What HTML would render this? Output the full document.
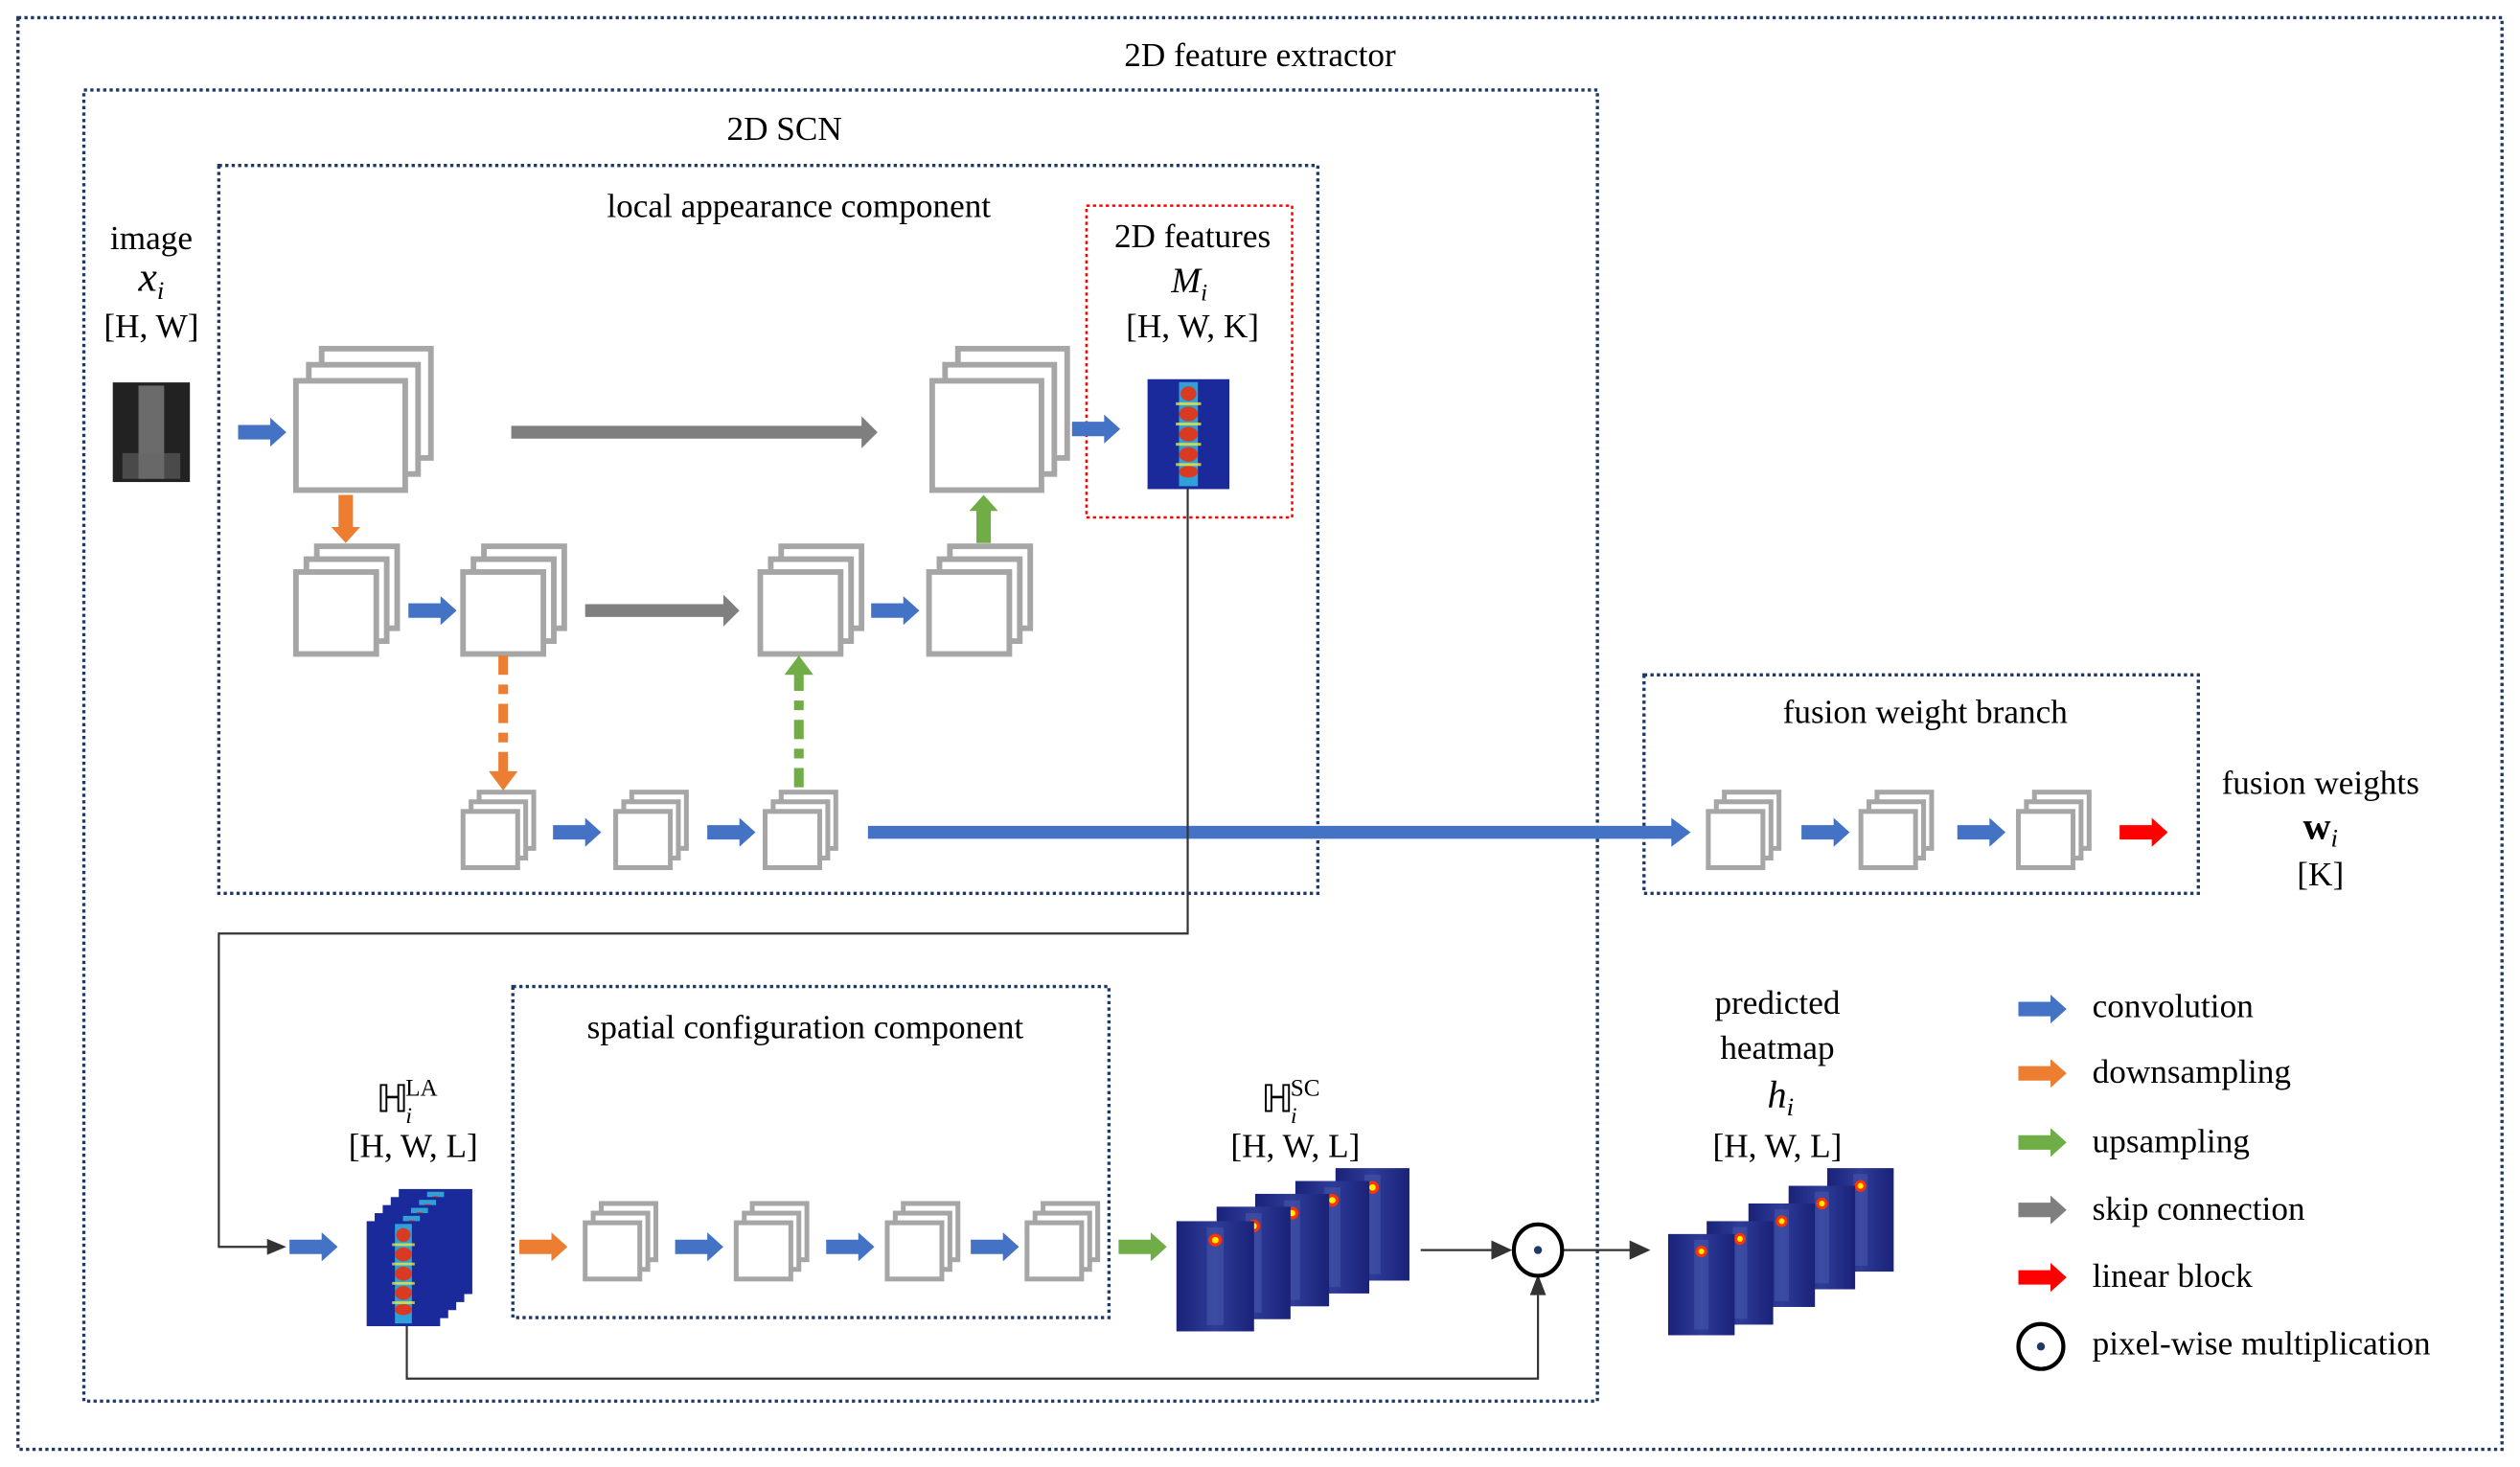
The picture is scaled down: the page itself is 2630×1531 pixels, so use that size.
<!DOCTYPE html>
<html><head><meta charset="utf-8"><style>
html,body{margin:0;padding:0;background:#fff;}
svg{display:block;}
text{font-family:"Liberation Serif","Times New Roman",serif;fill:#000;}
</style></head><body>
<svg width="2630" height="1531" viewBox="0 0 1568 913" xmlns="http://www.w3.org/2000/svg">
<defs>
<path id="arr" d="M0,-4.5 H20 V-9 L30,0 L20,9 V4.5 H0 Z"/>
<g id="bigS" fill="#fff" stroke="#a6a6a6" stroke-width="3.5">
<rect x="16" y="-20" width="68" height="68"/><rect x="8" y="-10" width="68" height="68"/><rect x="0" y="0" width="68" height="68"/></g>
<g id="medS" fill="#fff" stroke="#a6a6a6" stroke-width="3.5">
<rect x="13" y="-16" width="50" height="51"/><rect x="6.5" y="-8" width="50" height="51"/><rect x="0" y="0" width="50" height="51"/></g>
<g id="smS" fill="#fff" stroke="#a6a6a6" stroke-width="3">
<rect x="10" y="-12" width="34" height="35"/><rect x="5" y="-6" width="34" height="35"/><rect x="0" y="0" width="34" height="35"/></g>
<linearGradient id="spine" x1="0" x2="1"><stop offset="0" stop-color="#1a2278"/><stop offset="0.5" stop-color="#2e3c98"/><stop offset="1" stop-color="#1a2278"/></linearGradient>
<g id="sc">
<rect x="0" y="0" width="46" height="70" fill="url(#spine)"/>
<rect x="18" y="4" width="10" height="62" fill="#5a6ab8" opacity="0.35"/>
<circle cx="23" cy="12" r="4" fill="#ff3300"/><circle cx="23" cy="12" r="2" fill="#ffee00"/>
</g>
<g id="la">
<rect x="0" y="0" width="52" height="76" fill="#1a2a9a"/>
<rect x="20" y="2" width="12" height="72" fill="#2fa0d8"/>
<g fill="#d83a22"><ellipse cx="26" cy="10" rx="5" ry="5"/><ellipse cx="26" cy="24" rx="6" ry="5"/><ellipse cx="26" cy="38" rx="6" ry="5"/><ellipse cx="26" cy="52" rx="6" ry="5"/><ellipse cx="26" cy="64" rx="6" ry="4"/></g>
<g fill="#e8e83a" opacity="0.8"><rect x="18" y="16" width="16" height="2"/><rect x="18" y="30" width="16" height="2"/><rect x="18" y="44" width="16" height="2"/><rect x="18" y="58" width="16" height="2"/></g>
</g>
</defs>

<g fill="none" stroke="#1f3864" stroke-width="2" stroke-dasharray="2 2">
<rect x="11" y="11" width="1546" height="891"/>
<rect x="52" y="56" width="942" height="816"/>
<rect x="136" y="103" width="684" height="453"/>
<rect x="1023" y="420" width="345" height="136"/>
<rect x="319" y="614" width="371" height="206"/>
</g>
<rect x="676" y="128" width="128" height="194" fill="none" stroke="#ff0000" stroke-width="1.5" stroke-dasharray="2 2"/>

<g font-size="21" text-anchor="middle">
<text x="784" y="41">2D feature extractor</text>
<text x="488" y="87">2D SCN</text>
<text x="497" y="135">local appearance component</text>
<text x="742" y="154">2D features</text>
<text x="740" y="182" font-style="italic" font-size="22">M<tspan font-size="15" dy="5">i</tspan></text>
<text x="742" y="210">[H, W, K]</text>
<text x="94" y="155">image</text>
<text x="94" y="181" font-style="italic" font-size="26">x<tspan font-size="16" dy="5">i</tspan></text>
<text x="94" y="210">[H, W]</text>
<text x="1198" y="450">fusion weight branch</text>
<text x="1444" y="494">fusion weights</text>
<text x="1444" y="522" font-weight="bold" font-size="24">w<tspan font-weight="normal" font-style="italic" font-size="16" dy="5">i</tspan></text>
<text x="1444" y="551">[K]</text>
<text x="501" y="646">spatial configuration component</text>
<text x="253" y="692" font-size="24">ℍ<tspan font-size="14" font-style="italic" dx="-2" dy="7">i</tspan><tspan font-size="15" dx="-4" dy="-17">LA</tspan></text>
<text x="257" y="720">[H, W, L]</text>
<text x="803" y="692" font-size="24">ℍ<tspan font-size="14" font-style="italic" dx="-2" dy="7">i</tspan><tspan font-size="15" dx="-4" dy="-17">SC</tspan></text>
<text x="806" y="720">[H, W, L]</text>
<text x="1106" y="631">predicted</text>
<text x="1106" y="659">heatmap</text>
<text x="1108" y="689" font-style="italic" font-size="24">h<tspan font-size="16" dy="5">i</tspan></text>
<text x="1106" y="720">[H, W, L]</text>
</g>
<g font-size="21">
<text x="1302" y="633">convolution</text>
<text x="1302" y="674">downsampling</text>
<text x="1302" y="717">upsampling</text>
<text x="1302" y="759">skip connection</text>
<text x="1302" y="801">linear block</text>
<text x="1302" y="843">pixel-wise multiplication</text>
</g>

<rect x="70" y="238" width="48" height="62" fill="#222"/>
<rect x="86" y="240" width="16" height="58" fill="#8a8a8a" opacity="0.7"/>
<rect x="76" y="282" width="36" height="16" fill="#666" opacity="0.6"/>

<use href="#la" transform="translate(714,236) scale(0.98,0.9)"/>

<use href="#bigS" x="184" y="237"/>
<use href="#bigS" x="580" y="237"/>
<use href="#medS" x="184" y="356"/>
<use href="#medS" x="288" y="356"/>
<use href="#medS" x="473" y="356"/>
<use href="#medS" x="578" y="356"/>
<use href="#smS" x="288" y="505"/>
<use href="#smS" x="383" y="505"/>
<use href="#smS" x="476" y="505"/>
<use href="#smS" x="1063" y="505"/>
<use href="#smS" x="1158" y="505"/>
<use href="#smS" x="1256" y="505"/>
<use href="#smS" x="364" y="761"/>
<use href="#smS" x="458" y="761"/>
<use href="#smS" x="552" y="761"/>
<use href="#smS" x="639" y="761"/>

<g fill="#4472c4">
<use href="#arr" transform="translate(148,269)"/>
<use href="#arr" transform="translate(667,267)"/>
<use href="#arr" transform="translate(254,380)"/>
<use href="#arr" transform="translate(542,380)"/>
<use href="#arr" transform="translate(344,518)"/>
<use href="#arr" transform="translate(440,518)"/>
<use href="#arr" transform="translate(1121,518)"/>
<use href="#arr" transform="translate(1218,518)"/>
<use href="#arr" transform="translate(180,776)"/>
<use href="#arr" transform="translate(420,776)"/>
<use href="#arr" transform="translate(514,776)"/>
<use href="#arr" transform="translate(604,776)"/>
<use href="#arr" transform="translate(1256,628)"/>
<path d="M540,514 H1040 V509 L1052,518 L1040,527 V522 H540 Z"/>
</g>
<g fill="#7f7f7f">
<path d="M318,265 H536 V259 L546,269 L536,279 V273 H318 Z"/>
<path d="M364,376 H450 V370 L460,380 L450,390 V384 H364 Z"/>
<use href="#arr" transform="translate(1256,753)"/>
</g>
<g fill="#ed7d31">
<use href="#arr" transform="translate(215,308) rotate(90)"/>
<use href="#arr" transform="translate(323,776)"/>
<use href="#arr" transform="translate(1256,668)"/>
<path d="M310,408 h6 v12 h-6z M310,426 h6 v6 h-6z M310,438 h6 v12 h-6z M310,456 h6 v6 h-6z M310,468 h6 v12 h6 l-9,12 l-9,-12 h6z"/>
</g>
<g fill="#70ad47">
<use href="#arr" transform="translate(612,338) rotate(-90)"/>
<use href="#arr" transform="translate(696,776)"/>
<use href="#arr" transform="translate(1256,711)"/>
<path d="M494,490 h6 v-12 h-6z M494,472 h6 v-6 h-6z M494,460 h6 v-12 h-6z M494,442 h6 v-6 h-6z M494,430 h6 v-10 h6 l-9,-12 l-9,12 h6z"/>
</g>
<g fill="#ff0000">
<use href="#arr" transform="translate(1319,518)"/>
<use href="#arr" transform="translate(1256,795)"/>
</g>

<g fill="none" stroke="#333" stroke-width="1.3">
<polyline points="739,304 739,581 136,581 136,776 168,776"/>
<polyline points="253,815 253,858 957,858 957,806"/>
<line x1="884" y1="778" x2="930" y2="778"/>
<line x1="972" y1="778" x2="1016" y2="778"/>
</g>
<g fill="#333">
<path d="M166,771 L178,776 L166,781 Z"/>
<path d="M952,806 L957,793 L962,806 Z"/>
<path d="M928,772 L941,778 L928,784 Z"/>
<path d="M1014,772 L1027,778 L1014,784 Z"/>
</g>
<ellipse cx="957" cy="778" rx="15" ry="16" fill="#fff" stroke="#000" stroke-width="2.5"/>
<circle cx="957" cy="778" r="2.5" fill="#1f3864"/>
<circle cx="1270" cy="838" r="14" fill="#fff" stroke="#000" stroke-width="2.5"/>
<circle cx="1270" cy="838" r="2.5" fill="#1f3864"/>

<use href="#la" transform="translate(248,740) scale(0.88,0.86)"/>
<use href="#la" transform="translate(243,745) scale(0.88,0.86)"/>
<use href="#la" transform="translate(238,750) scale(0.88,0.86)"/>
<use href="#la" transform="translate(233,755) scale(0.88,0.86)"/>
<use href="#la" transform="translate(228,760) scale(0.88,0.86)"/>

<use href="#sc" transform="translate(831,727)"/>
<use href="#sc" transform="translate(806,735)"/>
<use href="#sc" transform="translate(781,743)"/>
<use href="#sc" transform="translate(757,751)"/>
<use href="#sc" transform="translate(732,760) scale(1.05,0.98)"/>

<use href="#sc" transform="translate(1137,727) scale(0.9,0.92)"/>
<use href="#sc" transform="translate(1113,738) scale(0.9,0.92)"/>
<use href="#sc" transform="translate(1088,749) scale(0.9,0.92)"/>
<use href="#sc" transform="translate(1062,760) scale(0.9,0.92)"/>
<use href="#sc" transform="translate(1038,768) scale(0.9,0.9)"/>
</svg>
</body></html>
